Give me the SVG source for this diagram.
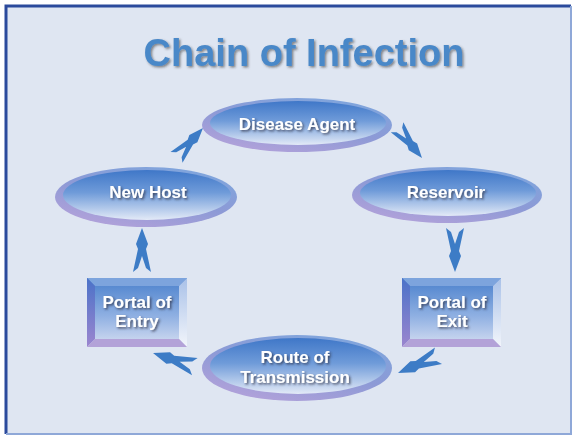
<svg xmlns="http://www.w3.org/2000/svg" xmlns:xlink="http://www.w3.org/1999/xlink" width="575" height="437" viewBox="0 0 575 437">
  <defs>
    <linearGradient id="rim" x1="0.8" y1="0" x2="0.2" y2="1">
      <stop offset="0" stop-color="#7ea6dd"/>
      <stop offset="0.5" stop-color="#8d9ad6"/>
      <stop offset="1" stop-color="#b4a2da"/>
    </linearGradient>
    <linearGradient id="face" x1="0" y1="0" x2="0" y2="1">
      <stop offset="0" stop-color="#3f77c8"/>
      <stop offset="0.45" stop-color="#6f9bd9"/>
      <stop offset="1" stop-color="#e3eaf7"/>
    </linearGradient>
    <linearGradient id="rface" x1="0" y1="0" x2="0" y2="1">
      <stop offset="0" stop-color="#4a80cc"/>
      <stop offset="0.55" stop-color="#8fb0e2"/>
      <stop offset="1" stop-color="#d7dff2"/>
    </linearGradient>
    <linearGradient id="bleft" x1="0" y1="0" x2="0" y2="1">
      <stop offset="0" stop-color="#4b72c8"/>
      <stop offset="1" stop-color="#9b86cf"/>
    </linearGradient>
    <linearGradient id="bright" x1="0" y1="0" x2="0" y2="1">
      <stop offset="0" stop-color="#a9c1e8"/>
      <stop offset="1" stop-color="#f2f5fb"/>
    </linearGradient>
    <filter id="tsh" x="-10%" y="-20%" width="120%" height="150%">
      <feDropShadow dx="1.5" dy="1.5" stdDeviation="0.8" flood-color="#2a2a3a" flood-opacity="0.75"/>
    </filter>
    <filter id="ttl" x="-5%" y="-20%" width="110%" height="150%">
      <feDropShadow dx="1.5" dy="1.5" stdDeviation="1" flood-color="#333" flood-opacity="0.55"/>
    </filter>
    <path id="dart" d="M0,0 L-16,-6 L-21,-4 L-44,-9 L-40,-4 L-28,0 L-40,4 L-44,9 L-21,4 L-16,6 Z"/>
  </defs>
  <style>
    .lbl { font-family: "Liberation Sans", Arial, sans-serif; font-weight: bold; font-size: 17px; fill: #ffffff; text-anchor: middle; filter: url(#tsh); }
    .rim { fill: url(#rim); }
    .face { fill: url(#face); }
    .arrow { fill: #3d7cc6; }
  </style>

  <!-- background and frame -->
  <rect x="0" y="0" width="575" height="437" fill="#ffffff"/>
  <rect x="5" y="5" width="566" height="429" fill="#dfe6f2"/>
  <path d="M6,434 L6,6 L571,6" fill="none" stroke="#2b4a9c" stroke-width="3"/>
  <path d="M571,6 L571,434 L6,434" fill="none" stroke="#8fa8d8" stroke-width="2"/>

  <text x="304" y="66" font-family="'Liberation Sans', Arial, sans-serif" font-weight="bold" font-size="38" fill="#4a88c8" text-anchor="middle" filter="url(#ttl)">Chain of Infection</text>

  <g id="connectors">
    <use xlink:href="#dart" class="arrow" transform="translate(203,128) rotate(-48) scale(0.9)"/>
    <use xlink:href="#dart" class="arrow" transform="translate(422,158) rotate(51) scale(0.9)"/>
    <use xlink:href="#dart" class="arrow" transform="translate(455,272) rotate(90)"/>
    <use xlink:href="#dart" class="arrow" transform="translate(398,373) rotate(157)"/>
    <use xlink:href="#dart" class="arrow" transform="translate(153,353) rotate(198)"/>
    <use xlink:href="#dart" class="arrow" transform="translate(142,228) rotate(-90)"/>
  </g>

  <g id="node-disease-agent">
    <ellipse class="rim" cx="297" cy="125" rx="95" ry="27"/>
    <ellipse class="face" cx="298" cy="123" rx="88" ry="22"/>
    <text class="lbl" x="297" y="130">Disease Agent</text>
  </g>

  <g id="node-reservoir">
    <ellipse class="rim" cx="447" cy="195" rx="95" ry="28"/>
    <ellipse class="face" cx="448" cy="193" rx="88" ry="23"/>
    <text class="lbl" x="446" y="198">Reservoir</text>
  </g>

  <g id="node-new-host">
    <ellipse class="rim" cx="146" cy="197" rx="91" ry="30"/>
    <ellipse class="face" cx="147" cy="195" rx="84" ry="25"/>
    <text class="lbl" x="148" y="198">New Host</text>
  </g>

  <g id="node-route-of-transmission">
    <ellipse class="rim" cx="297" cy="368" rx="95" ry="33"/>
    <ellipse class="face" cx="298" cy="366" rx="88" ry="28"/>
    <text class="lbl" x="295" y="363">Route of</text>
    <text class="lbl" x="295" y="383">Transmission</text>
  </g>

  <g id="node-portal-of-entry">
    <rect x="87" y="278" width="100" height="69" fill="url(#rface)"/>
    <polygon points="87,278 187,278 179,286 95,286" fill="#7da4dd"/>
    <polygon points="87,278 95,286 95,339 87,347" fill="url(#bleft)"/>
    <polygon points="187,278 187,347 179,339 179,286" fill="url(#bright)"/>
    <polygon points="87,347 95,339 179,339 187,347" fill="#b3a2d8"/>
    <text class="lbl" x="137" y="308">Portal of</text>
    <text class="lbl" x="137" y="327">Entry</text>
  </g>

  <g id="node-portal-of-exit">
    <rect x="402" y="278" width="99" height="69" fill="url(#rface)"/>
    <polygon points="402,278 501,278 493,286 410,286" fill="#7da4dd"/>
    <polygon points="402,278 410,286 410,339 402,347" fill="url(#bleft)"/>
    <polygon points="501,278 501,347 493,339 493,286" fill="url(#bright)"/>
    <polygon points="402,347 410,339 493,339 501,347" fill="#b3a2d8"/>
    <text class="lbl" x="452" y="308">Portal of</text>
    <text class="lbl" x="452" y="327">Exit</text>
  </g>
</svg>
